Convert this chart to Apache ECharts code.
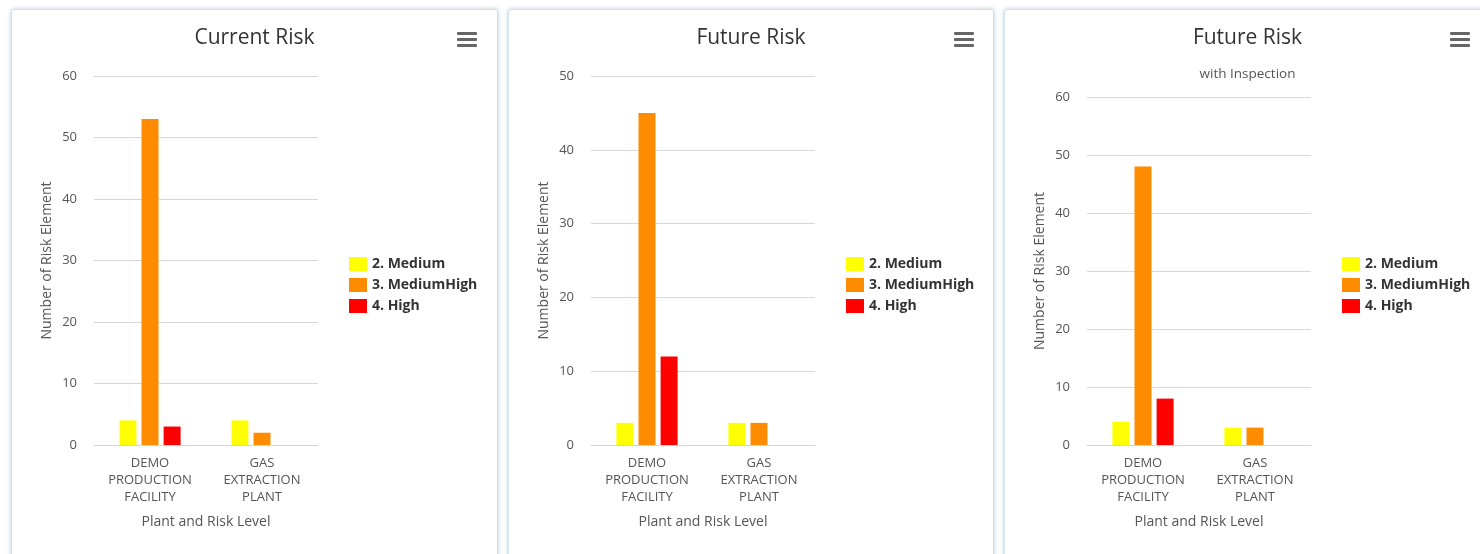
<!DOCTYPE html>
<html>
<head>
<meta charset="utf-8">
<script src="https://cdn.jsdelivr.net/npm/echarts@6/dist/echarts.min.js"></script>
<style>
  html, body { margin: 0; padding: 0; background: #fff; width: 1480px; height: 554px; overflow: hidden; }
  .card {
    position: absolute; top: 9px; height: 560px;
    background: #fff; border: 1px solid #d3dfea; border-radius: 3px;
    box-shadow: 0 0 4px rgba(120, 160, 200, 0.55);
  }
</style>
</head>
<body>
<div id="c1" class="card" style="left:11px;width:485px;"></div>
<div id="c2" class="card" style="left:508px;width:484px;"></div>
<div id="c3" class="card" style="left:1004px;width:485px;"></div>
<script>
var categories = ['DEMO\nPRODUCTION\nFACILITY', 'GAS\nEXTRACTION\nPLANT'];
var levels = ['2. Medium', '3. MediumHigh', '4. High'];
var levelColors = ['#ffff00', '#ff8c00', '#ff0000'];

// values per level: [DEMO, GAS]
var currentMedium = [4, 4];
var currentMediumHigh = [53, 2];
var currentHigh = [3, 0];

var futureMedium = [3, 3];
var futureMediumHigh = [45, 3];
var futureHigh = [12, 0];

var inspMedium = [4, 3];
var inspMediumHigh = [48, 3];
var inspHigh = [8, 0];

var font = 'Open Sans, DejaVu Sans, sans-serif';

function createChart(id, title, subtitle, yMax, gridTop, data) {
    var myChart = echarts.init(document.getElementById(id));
    var series = [];
    for (var i = 0; i < levels.length; i++) {
        series.push({
            name: levels[i],
            type: 'bar',
            data: data[i],
            barWidth: 17,
            barGap: '30%',
            itemStyle: { color: levelColors[i] }
        });
    }
    var titles = [{
        text: title, left: 'center', top: 13,
        textStyle: { fontFamily: font, fontSize: 21, fontWeight: 'normal', color: '#333' }
    }];
    if (subtitle) {
        titles.push({
            text: subtitle, left: 'center', top: 52,
            textStyle: { fontFamily: font, fontSize: 13.5, fontWeight: 'normal', color: '#555' }
        });
    }
    var option = {
        animation: false,
        title: titles,
        grid: { left: 82, top: gridTop, width: 224, height: 435 - gridTop },
        legend: {
            orient: 'vertical', left: 332, top: 242,
            itemWidth: 18, itemHeight: 14, itemGap: 7,
            icon: 'rect',
            data: levels,
            textStyle: { fontFamily: font, fontSize: 14, fontWeight: 'bold', color: '#333' }
        },
        xAxis: {
            type: 'category',
            data: categories,
            name: 'Plant and Risk Level',
            nameLocation: 'middle',
            nameGap: 70,
            nameTextStyle: { fontFamily: font, fontSize: 14, color: '#555' },
            axisLine: { lineStyle: { color: '#ccd6eb' } },
            axisTick: { length: 10, lineStyle: { color: '#ccd6eb' } },
            axisLabel: { fontFamily: font, fontSize: 13, color: '#555', lineHeight: 17, margin: 10 }
        },
        yAxis: {
            type: 'value',
            min: 0, max: yMax, interval: 10,
            name: 'Number of Risk Element',
            nameLocation: 'middle',
            nameGap: 40,
            nameTextStyle: { fontFamily: font, fontSize: 14, color: '#555' },
            axisLine: { show: false },
            axisTick: { show: false },
            axisLabel: { fontFamily: font, fontSize: 13, color: '#555', margin: 17 },
            splitLine: { lineStyle: { color: '#d8d8d8' } }
        },
        // menu button
        graphic: [
            { type: 'rect', shape: { x: 445, y: 22, width: 20, height: 3, r: 1 }, style: { fill: '#666' } },
            { type: 'rect', shape: { x: 445, y: 28, width: 20, height: 3, r: 1 }, style: { fill: '#666' } },
            { type: 'rect', shape: { x: 445, y: 34, width: 20, height: 3, r: 1 }, style: { fill: '#666' } }
        ],
        series: series
    };
    myChart.setOption(option);
}

createChart('c1', 'Current Risk', null, 60, 66, [currentMedium, currentMediumHigh, currentHigh]);
createChart('c2', 'Future Risk', null, 50, 66, [futureMedium, futureMediumHigh, futureHigh]);
createChart('c3', 'Future Risk', 'with Inspection', 60, 87, [inspMedium, inspMediumHigh, inspHigh]);
</script>
</body>
</html>
